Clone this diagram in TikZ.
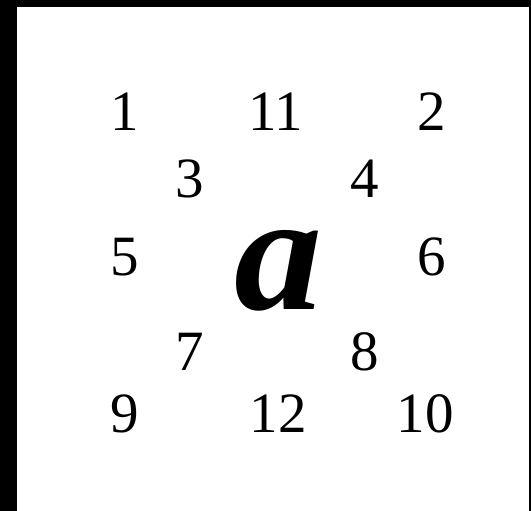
\documentclass[tikz,border=0pt]{standalone}
\usepackage{fontspec}
\setmainfont{Liberation Serif}
\begin{document}
\begin{tikzpicture}[x=1pt,y=-1pt,
  num/.style={inner sep=0pt,anchor=base,font=\fontsize{57}{60}\selectfont},
  bigletter/.style={inner sep=0pt,anchor=base,font=\fontsize{168}{168}\selectfont\bfseries\itshape}]
\useasboundingbox (0,0) rectangle (531,511);
\fill[white] (0,0) rectangle (531,511);
\fill[black] (0,0) rectangle (17,511);
\fill[black] (0,0) rectangle (531,7);
\fill[black] (529.2,0) rectangle (530.6,511);
\node[num] (n1) at (125,131) {1};
\node[num] (n11) at (276,131) {11};
\node[num] (n2) at (432,131) {2};
\node[num] (n3) at (190,197) {3};
\node[num] (n4) at (365,197) {4};
\node[num] (n5) at (125,275) {5};
\node[num] (n6) at (432,275) {6};
\node[num] (n7) at (190,370) {7};
\node[num] (n8) at (365,370) {8};
\node[num] (n9) at (125,432) {9};
\node[num] (n12) at (278,432) {12};
\node[num] (n10) at (425,432) {10};
\node[bigletter,xscale=1.05] (a) at (279,309) {a};
\end{tikzpicture}
\end{document}
